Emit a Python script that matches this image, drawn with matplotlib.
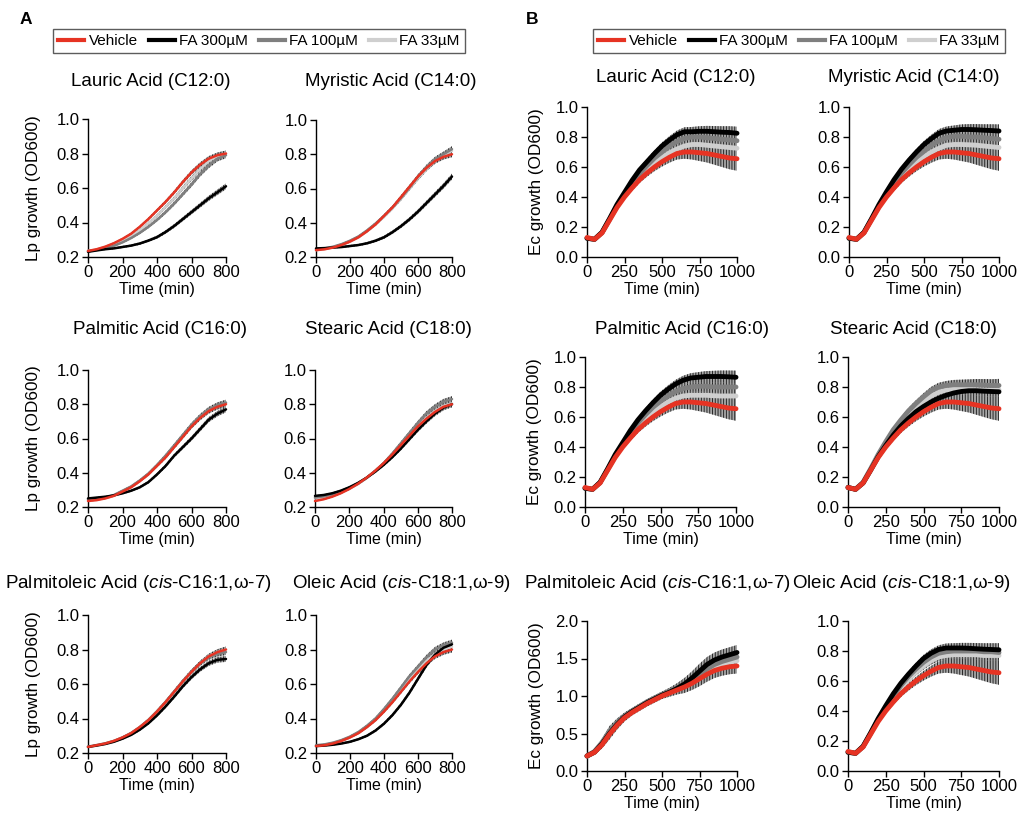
import matplotlib.pyplot as plt
from matplotlib.lines import Line2D
from matplotlib.ticker import FormatStrFormatter

plt.rcParams['font.family'] = ['Liberation Sans', 'DejaVu Sans']
plt.rcParams['hatch.linewidth'] = 0.7
plt.rcParams['mathtext.fontset'] = 'custom'
plt.rcParams['mathtext.it'] = 'Liberation Sans:italic'
plt.rcParams['mathtext.rm'] = 'Liberation Sans'

W, H = 1030, 823

series_names = ['Vehicle', 'FA 300µM', 'FA 100µM', 'FA 33µM']
series_colors = ['#e63323', '#000000', '#7f7f7f', '#cfcfcf']

# ---------------- Panel A: L. plantarum (0-800 min) ----------------
time_lp = [0, 50, 100, 150, 200, 250, 300, 350, 400, 450, 500, 550, 600, 650, 700, 750, 800]
sd_lp = [0.004, 0.004, 0.005, 0.005, 0.006, 0.006, 0.007, 0.008, 0.009, 0.010,
         0.011, 0.012, 0.013, 0.014, 0.015, 0.016, 0.017]

lauric_lp_veh = [0.235, 0.245, 0.26, 0.28, 0.305, 0.335, 0.375, 0.42, 0.47, 0.52, 0.575, 0.635, 0.69, 0.735, 0.77, 0.79, 0.80]
lauric_lp_300 = [0.23, 0.238, 0.245, 0.25, 0.258, 0.266, 0.278, 0.295, 0.315, 0.345, 0.38, 0.42, 0.46, 0.50, 0.54, 0.575, 0.61]
lauric_lp_100 = [0.235, 0.24, 0.25, 0.265, 0.285, 0.31, 0.34, 0.375, 0.415, 0.46, 0.51, 0.565, 0.62, 0.68, 0.73, 0.77, 0.79]
lauric_lp_33 = [0.235, 0.243, 0.255, 0.272, 0.295, 0.32, 0.355, 0.395, 0.44, 0.49, 0.54, 0.60, 0.655, 0.71, 0.755, 0.785, 0.80]

myristic_lp_veh = [0.24, 0.245, 0.255, 0.27, 0.29, 0.315, 0.35, 0.39, 0.44, 0.49, 0.55, 0.61, 0.67, 0.72, 0.76, 0.785, 0.80]
myristic_lp_300 = [0.25, 0.252, 0.255, 0.258, 0.264, 0.27, 0.28, 0.295, 0.315, 0.345, 0.38, 0.42, 0.465, 0.515, 0.565, 0.615, 0.67]
myristic_lp_100 = [0.245, 0.25, 0.26, 0.275, 0.295, 0.32, 0.355, 0.395, 0.44, 0.49, 0.545, 0.605, 0.67, 0.725, 0.77, 0.80, 0.83]
myristic_lp_33 = [0.24, 0.246, 0.256, 0.27, 0.29, 0.315, 0.35, 0.39, 0.435, 0.485, 0.54, 0.60, 0.66, 0.715, 0.76, 0.795, 0.82]

palmitic_lp_veh = [0.235, 0.24, 0.25, 0.265, 0.29, 0.315, 0.35, 0.39, 0.44, 0.49, 0.55, 0.61, 0.67, 0.72, 0.76, 0.785, 0.80]
palmitic_lp_300 = [0.25, 0.255, 0.26, 0.268, 0.28, 0.295, 0.315, 0.345, 0.39, 0.44, 0.50, 0.55, 0.60, 0.655, 0.71, 0.745, 0.77]
palmitic_lp_100 = [0.245, 0.248, 0.255, 0.27, 0.295, 0.32, 0.355, 0.395, 0.445, 0.50, 0.56, 0.62, 0.68, 0.73, 0.77, 0.795, 0.81]
palmitic_lp_33 = [0.24, 0.245, 0.253, 0.268, 0.292, 0.318, 0.352, 0.392, 0.442, 0.495, 0.555, 0.615, 0.675, 0.725, 0.765, 0.79, 0.805]

stearic_lp_veh = [0.235, 0.245, 0.26, 0.28, 0.305, 0.335, 0.37, 0.41, 0.455, 0.505, 0.56, 0.615, 0.67, 0.715, 0.755, 0.785, 0.80]
stearic_lp_300 = [0.265, 0.27, 0.28, 0.295, 0.315, 0.34, 0.37, 0.405, 0.445, 0.49, 0.54, 0.595, 0.65, 0.70, 0.745, 0.78, 0.80]
stearic_lp_100 = [0.255, 0.262, 0.273, 0.29, 0.31, 0.335, 0.37, 0.41, 0.455, 0.51, 0.57, 0.63, 0.69, 0.745, 0.785, 0.815, 0.83]
stearic_lp_33 = [0.25, 0.256, 0.268, 0.285, 0.307, 0.333, 0.367, 0.407, 0.452, 0.502, 0.558, 0.615, 0.672, 0.72, 0.76, 0.79, 0.805]

palmitoleic_lp_veh = [0.235, 0.245, 0.255, 0.27, 0.29, 0.315, 0.35, 0.39, 0.44, 0.495, 0.555, 0.615, 0.67, 0.72, 0.76, 0.785, 0.80]
palmitoleic_lp_300 = [0.235, 0.243, 0.252, 0.265, 0.283, 0.305, 0.335, 0.372, 0.418, 0.47, 0.527, 0.587, 0.64, 0.685, 0.72, 0.74, 0.745]
palmitoleic_lp_100 = [0.237, 0.246, 0.256, 0.27, 0.29, 0.316, 0.35, 0.392, 0.442, 0.497, 0.557, 0.617, 0.672, 0.72, 0.755, 0.775, 0.785]
palmitoleic_lp_33 = [0.236, 0.245, 0.255, 0.27, 0.29, 0.315, 0.35, 0.39, 0.44, 0.495, 0.555, 0.615, 0.67, 0.72, 0.76, 0.785, 0.80]

oleic_lp_veh = [0.24, 0.245, 0.255, 0.27, 0.29, 0.315, 0.35, 0.39, 0.44, 0.495, 0.555, 0.615, 0.67, 0.72, 0.76, 0.785, 0.80]
oleic_lp_300 = [0.24, 0.243, 0.248, 0.255, 0.265, 0.28, 0.30, 0.33, 0.37, 0.42, 0.48, 0.55, 0.63, 0.71, 0.77, 0.81, 0.83]
oleic_lp_100 = [0.245, 0.25, 0.26, 0.275, 0.295, 0.322, 0.358, 0.40, 0.455, 0.515, 0.58, 0.645, 0.70, 0.755, 0.80, 0.825, 0.84]
oleic_lp_33 = [0.242, 0.247, 0.257, 0.272, 0.292, 0.318, 0.353, 0.395, 0.447, 0.505, 0.567, 0.63, 0.685, 0.735, 0.775, 0.80, 0.815]

# ---------------- Panel B: E. coli (0-1000 min) ----------------
time_ec = [0, 50, 100, 150, 200, 250, 300, 350, 400, 450, 500, 550, 600, 650, 700, 750, 800, 850, 900, 950, 1000]
sd_ec_veh = [0.01, 0.01, 0.01, 0.012, 0.015, 0.018, 0.02, 0.022, 0.025, 0.028, 0.032,
             0.036, 0.04, 0.045, 0.05, 0.055, 0.06, 0.065, 0.07, 0.075, 0.08]
sd_ec_fa = [0.01, 0.01, 0.01, 0.01, 0.012, 0.014, 0.016, 0.018, 0.02, 0.022, 0.024,
            0.026, 0.028, 0.03, 0.032, 0.034, 0.036, 0.038, 0.04, 0.042, 0.044]
sd_ec_pol = [0.02, 0.03, 0.05, 0.07, 0.06, 0.05, 0.04, 0.04, 0.04, 0.04, 0.04,
             0.05, 0.06, 0.08, 0.09, 0.10, 0.10, 0.10, 0.10, 0.10, 0.10]

ec_veh = [0.13, 0.118, 0.16, 0.245, 0.33, 0.40, 0.46, 0.515, 0.56, 0.60, 0.635,
          0.665, 0.69, 0.70, 0.70, 0.695, 0.69, 0.68, 0.67, 0.66, 0.655]

lauric_ec_300 = [0.125, 0.118, 0.165, 0.255, 0.35, 0.43, 0.51, 0.58, 0.635, 0.69, 0.74, 0.78, 0.815, 0.835, 0.835, 0.838, 0.838, 0.835, 0.832, 0.83, 0.825]
lauric_ec_100 = [0.125, 0.118, 0.163, 0.25, 0.34, 0.415, 0.49, 0.555, 0.61, 0.66, 0.70, 0.74, 0.77, 0.79, 0.80, 0.80, 0.795, 0.79, 0.785, 0.78, 0.775]
lauric_ec_33 = [0.128, 0.118, 0.163, 0.248, 0.335, 0.41, 0.475, 0.535, 0.585, 0.63, 0.665, 0.695, 0.72, 0.74, 0.75, 0.75, 0.745, 0.74, 0.735, 0.73, 0.725]

myristic_ec_300 = [0.125, 0.118, 0.165, 0.255, 0.35, 0.435, 0.515, 0.585, 0.645, 0.70, 0.75, 0.79, 0.825, 0.84, 0.845, 0.85, 0.85, 0.848, 0.845, 0.843, 0.84]
myristic_ec_100 = [0.125, 0.118, 0.163, 0.25, 0.34, 0.42, 0.495, 0.56, 0.615, 0.665, 0.705, 0.745, 0.775, 0.795, 0.805, 0.805, 0.80, 0.80, 0.795, 0.79, 0.785]
myristic_ec_33 = [0.128, 0.118, 0.163, 0.248, 0.335, 0.41, 0.478, 0.54, 0.59, 0.635, 0.67, 0.70, 0.725, 0.745, 0.75, 0.75, 0.748, 0.745, 0.74, 0.735, 0.73]

palmitic_ec_300 = [0.125, 0.118, 0.165, 0.255, 0.35, 0.43, 0.51, 0.58, 0.64, 0.695, 0.745, 0.785, 0.82, 0.845, 0.86, 0.865, 0.87, 0.87, 0.87, 0.868, 0.865]
palmitic_ec_100 = [0.125, 0.118, 0.163, 0.25, 0.34, 0.42, 0.495, 0.56, 0.615, 0.665, 0.705, 0.74, 0.77, 0.79, 0.80, 0.805, 0.805, 0.80, 0.80, 0.80, 0.80]
palmitic_ec_33 = [0.128, 0.118, 0.163, 0.248, 0.335, 0.41, 0.478, 0.54, 0.59, 0.635, 0.67, 0.70, 0.725, 0.74, 0.745, 0.745, 0.745, 0.742, 0.74, 0.74, 0.74]

stearic_ec_300 = [0.13, 0.118, 0.16, 0.245, 0.335, 0.41, 0.48, 0.54, 0.59, 0.635, 0.67, 0.70, 0.725, 0.745, 0.76, 0.77, 0.775, 0.775, 0.772, 0.77, 0.768]
stearic_ec_100 = [0.13, 0.118, 0.165, 0.255, 0.35, 0.435, 0.515, 0.58, 0.64, 0.69, 0.735, 0.775, 0.80, 0.81, 0.815, 0.815, 0.815, 0.815, 0.813, 0.81, 0.81]
stearic_ec_33 = [0.13, 0.118, 0.163, 0.25, 0.34, 0.42, 0.495, 0.56, 0.615, 0.665, 0.705, 0.74, 0.765, 0.78, 0.785, 0.785, 0.785, 0.782, 0.78, 0.78, 0.78]

palmitoleic_ec_veh = [0.2, 0.25, 0.35, 0.49, 0.61, 0.71, 0.78, 0.84, 0.90, 0.95, 1.00, 1.04, 1.08, 1.12, 1.17, 1.23, 1.29, 1.34, 1.37, 1.39, 1.40]
palmitoleic_ec_300 = [0.2, 0.25, 0.36, 0.50, 0.62, 0.72, 0.79, 0.85, 0.91, 0.96, 1.01, 1.05, 1.10, 1.16, 1.24, 1.33, 1.42, 1.48, 1.52, 1.55, 1.58]
palmitoleic_ec_100 = [0.2, 0.26, 0.38, 0.53, 0.64, 0.73, 0.80, 0.86, 0.92, 0.97, 1.02, 1.06, 1.11, 1.16, 1.22, 1.29, 1.36, 1.42, 1.46, 1.49, 1.52]
palmitoleic_ec_33 = [0.2, 0.26, 0.37, 0.52, 0.63, 0.72, 0.79, 0.855, 0.915, 0.965, 1.015, 1.055, 1.10, 1.15, 1.21, 1.27, 1.33, 1.38, 1.42, 1.45, 1.47]

oleic_ec_300 = [0.125, 0.118, 0.165, 0.255, 0.35, 0.435, 0.515, 0.585, 0.645, 0.70, 0.75, 0.785, 0.81, 0.82, 0.82, 0.82, 0.818, 0.815, 0.812, 0.81, 0.808]
oleic_ec_100 = [0.125, 0.118, 0.163, 0.25, 0.345, 0.425, 0.50, 0.57, 0.63, 0.68, 0.725, 0.76, 0.785, 0.795, 0.80, 0.80, 0.80, 0.80, 0.795, 0.795, 0.79]
oleic_ec_33 = [0.128, 0.118, 0.163, 0.248, 0.34, 0.415, 0.49, 0.555, 0.61, 0.66, 0.70, 0.735, 0.76, 0.77, 0.775, 0.775, 0.775, 0.775, 0.77, 0.77, 0.77]

titles = ['Lauric Acid (C12:0)', 'Myristic Acid (C14:0)',
          'Palmitic Acid (C16:0)', 'Stearic Acid (C18:0)',
          r'Palmitoleic Acid ($\mathit{cis}$-C16:1,ω-7)',
          r'Oleic Acid ($\mathit{cis}$-C18:1,ω-9)']

fig = plt.figure(figsize=(W / 100, H / 100), dpi=100)


def axes_px(x0, y0, x1, y1):
    return fig.add_axes([x0 / W, 1 - y1 / H, (x1 - x0) / W, (y1 - y0) / H])


def draw(ax, t, curves, sds, xmax, xticks, ylim, yticks, lw, ylabel=None, pad=10):
    for y, sd in zip(curves[::-1], sds[::-1]):
        lo = [a - b for a, b in zip(y, sd)]
        hi = [a + b for a, b in zip(y, sd)]
        ax.fill_between(t, lo, hi, facecolor='#a8a8a8', edgecolor='#262626',
                        hatch='||||||', linewidth=0, clip_on=False, zorder=1)
    for y, c in zip(curves[::-1], series_colors[::-1]):
        ax.plot(t, y, color=c, lw=lw, clip_on=False, zorder=3,
                solid_capstyle='round')
    ax.set_xlim(0, xmax)
    ax.set_ylim(*ylim)
    ax.set_xticks(xticks)
    ax.set_yticks(yticks)
    ax.yaxis.set_major_formatter(FormatStrFormatter('%.1f'))
    for s in ['top', 'right']:
        ax.spines[s].set_visible(False)
    for s in ['left', 'bottom']:
        ax.spines[s].set_linewidth(1.0)
    ax.tick_params(direction='out', length=4, width=1, labelsize=12, pad=2)
    ax.set_xlabel('Time (min)', fontsize=11.5, labelpad=1)
    if ylabel:
        ax.set_ylabel(ylabel, fontsize=12.3, labelpad=pad)


# axes boxes in pixels (x0, ytop, x1, ybottom)
a_boxes = [(88, 119, 226, 257), (316, 120, 452, 257),
           (88, 370, 226, 507), (315, 370, 452, 507),
           (88, 615, 226, 753), (316, 615, 452, 753)]
b_boxes = [(587, 107, 737, 257), (849, 107, 999, 257),
           (585, 357, 736, 507), (848, 357, 999, 507),
           (587, 621, 737, 771), (848, 621, 999, 771)]
a_title_pos = [(151, 82), (391, 82), (160, 330), (388, 330), (138, 584), (401, 584)]
b_title_pos = [(676, 78), (914, 78), (682, 329), (913, 329), (657, 584), (901, 584)]

lp_data = [
    [lauric_lp_veh, lauric_lp_300, lauric_lp_100, lauric_lp_33],
    [myristic_lp_veh, myristic_lp_300, myristic_lp_100, myristic_lp_33],
    [palmitic_lp_veh, palmitic_lp_300, palmitic_lp_100, palmitic_lp_33],
    [stearic_lp_veh, stearic_lp_300, stearic_lp_100, stearic_lp_33],
    [palmitoleic_lp_veh, palmitoleic_lp_300, palmitoleic_lp_100, palmitoleic_lp_33],
    [oleic_lp_veh, oleic_lp_300, oleic_lp_100, oleic_lp_33],
]
ec_data = [
    [ec_veh, lauric_ec_300, lauric_ec_100, lauric_ec_33],
    [ec_veh, myristic_ec_300, myristic_ec_100, myristic_ec_33],
    [ec_veh, palmitic_ec_300, palmitic_ec_100, palmitic_ec_33],
    [ec_veh, stearic_ec_300, stearic_ec_100, stearic_ec_33],
    [palmitoleic_ec_veh, palmitoleic_ec_300, palmitoleic_ec_100, palmitoleic_ec_33],
    [ec_veh, oleic_ec_300, oleic_ec_100, oleic_ec_33],
]

for i in range(6):
    ax = axes_px(*a_boxes[i])
    draw(ax, time_lp, lp_data[i], [sd_lp] * 4, 800, [0, 200, 400, 600, 800],
         (0.2, 1.0), [0.2, 0.4, 0.6, 0.8, 1.0], 1.8,
         'Lp growth (OD600)' if i % 2 == 0 else None, pad=11)
    x, y = a_title_pos[i]
    fig.text(x / W, 1 - y / H, titles[i], ha='center', va='center', fontsize=13.5)

for i in range(6):
    ax = axes_px(*b_boxes[i])
    if i == 4:
        draw(ax, time_ec, ec_data[i], [sd_ec_pol] * 4, 1000, [0, 250, 500, 750, 1000],
             (0, 2.0), [0, 0.5, 1.0, 1.5, 2.0], 3.5, 'Ec growth (OD600)', pad=8)
    else:
        draw(ax, time_ec, ec_data[i], [sd_ec_veh, sd_ec_fa, sd_ec_fa, sd_ec_fa], 1000,
             [0, 250, 500, 750, 1000], (0, 1.0), [0, 0.2, 0.4, 0.6, 0.8, 1.0], 3.5,
             'Ec growth (OD600)' if i % 2 == 0 else None, pad=8)
    x, y = b_title_pos[i]
    fig.text(x / W, 1 - y / H, titles[i], ha='center', va='center', fontsize=13.5)

# panel letters
fig.text(20 / W, 1 - 19 / H, 'A', fontsize=12.5, fontweight='bold', va='center')
fig.text(526 / W, 1 - 19 / H, 'B', fontsize=12.5, fontweight='bold', va='center')

handles = [Line2D([], [], color=c, lw=3) for c in series_colors]
for cx in [259 / W, 799 / W]:
    leg = fig.legend(handles, series_names, loc='center', bbox_to_anchor=(cx, 1 - 41 / H),
                     ncol=4, fontsize=11, frameon=True, fancybox=False,
                     handlelength=1.7, handletextpad=0.3, columnspacing=0.7,
                     borderpad=0.35, borderaxespad=0)
    leg.get_frame().set_edgecolor('#333333')
    leg.get_frame().set_linewidth(1.0)

fig.savefig('out.png', dpi=100)
